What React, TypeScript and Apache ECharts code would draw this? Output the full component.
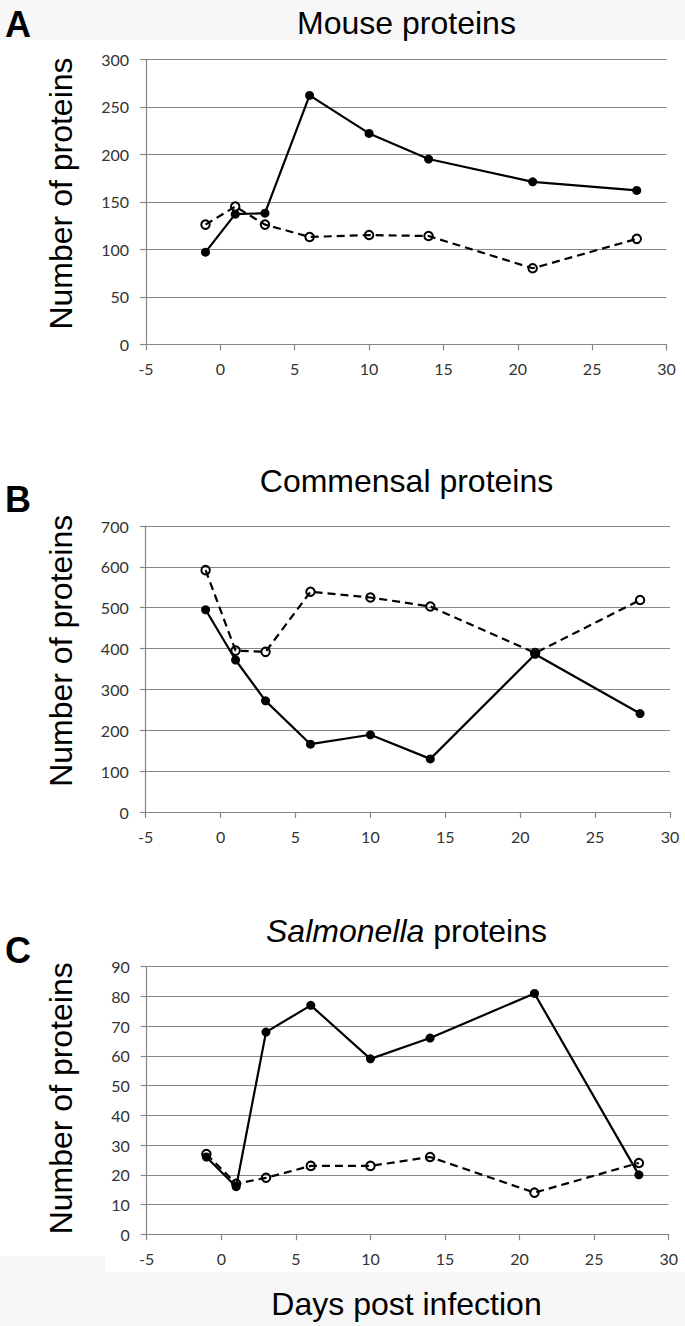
import React, { useEffect, useRef } from "react";
import * as echarts from "echarts";

// ---- data ----
const days = [-1, 1, 3, 6, 10, 14, 21, 28];
const mouseSolid = [97, 137, 138, 262, 222, 195, 171, 162];
const mouseDashed = [126, 145, 126, 113, 115, 114, 80, 111];
const commensalSolid = [495, 372, 272, 166, 189, 130, 386, 241];
const commensalDashed = [592, 395, 392, 539, 525, 503, 389, 519];
const salmonellaSolid = [26, 16, 68, 77, 59, 66, 81, 20];
const salmonellaDashed = [27, 17, 19, 23, 23, 26, 14, 24];

const xMin = -5;
const xMax = 30;
const xInterval = 5;
const yMaxes = [300, 700, 90];
const yIntervals = [50, 100, 10];

const panelLetters = ["A", "B", "C"];
const yTitle = "Number of proteins";
const xTitle = "Days post infection";

// ---- layout ----
const grids = [
  { left: 146, top: 59.3, width: 520.5, height: 285 },
  { left: 145.7, top: 526, width: 524.3, height: 286 },
  { left: 146.7, top: 966.7, width: 522, height: 267.6 },
];

const AXIS_COLOR = "#868686";
const LABEL_COLOR = "#333333";
const TITLE_FONT = "'Liberation Sans', Arial, sans-serif";
const TICK_FONT = "Lato, 'Open Sans', sans-serif";

function pairs(ys: number[]) {
  return days.map((d, i) => [d, ys[i]]);
}

export default function App() {
  const ref = useRef<HTMLDivElement>(null);

  useEffect(() => {
    if (!ref.current) return;
    const chart = echarts.init(ref.current, undefined, { renderer: "svg" });

    const solidSets = [mouseSolid, commensalSolid, salmonellaSolid];
    const dashedSets = [mouseDashed, commensalDashed, salmonellaDashed];

    const xAxes = grids.map((_, i) => ({
      type: "value",
      gridIndex: i,
      min: xMin,
      max: xMax,
      interval: xInterval,
      axisLine: { show: true, onZero: false, lineStyle: { color: AXIS_COLOR, width: 1.2 } },
      axisTick: { show: true, length: 6, inside: false, lineStyle: { color: AXIS_COLOR, width: 1.2 } },
      splitLine: { show: false },
      axisLabel: {
        color: LABEL_COLOR,
        fontFamily: TICK_FONT,
        fontSize: 16,
        margin: 16,
      },
    }));

    const yAxes = grids.map((_, i) => ({
      type: "value",
      gridIndex: i,
      min: 0,
      max: yMaxes[i],
      interval: yIntervals[i],
      axisLine: { show: true, onZero: false, lineStyle: { color: AXIS_COLOR, width: 1.2 } },
      axisTick: { show: true, length: 6, inside: false, lineStyle: { color: AXIS_COLOR, width: 1.2 } },
      splitLine: { show: true, lineStyle: { color: AXIS_COLOR, width: 1.2 } },
      axisLabel: {
        color: LABEL_COLOR,
        fontFamily: TICK_FONT,
        fontSize: 16,
        margin: 17,
      },
    }));

    const series: any[] = [];
    grids.forEach((_, i) => {
      series.push({
        type: "line",
        xAxisIndex: i,
        yAxisIndex: i,
        data: pairs(dashedSets[i]),
        symbol: "circle",
        symbolSize: 8.5,
        lineStyle: { color: "#000", width: 2.2, type: [8, 5] },
        itemStyle: { color: "rgba(0,0,0,0)", borderColor: "#000", borderWidth: 2 },
        emphasis: { disabled: true },
        silent: true,
        z: 3,
      });
      series.push({
        type: "line",
        xAxisIndex: i,
        yAxisIndex: i,
        data: pairs(solidSets[i]),
        symbol: "circle",
        symbolSize: 9,
        lineStyle: { color: "#000", width: 2.2 },
        itemStyle: { color: "#000" },
        emphasis: { disabled: true },
        silent: true,
        z: 4,
      });
    });

    const titleCenterX = 406.5;
    const titleYs = [23, 480.5, 930.5];
    const letterYs = [24.5, 499, 950.5];
    const yTitleYs = [193.5, 650.8, 1098.3];

    const graphics: any[] = [
      { type: "rect", shape: { x: 0, y: 0, width: 685, height: 40 }, style: { fill: "#f7f7f7" }, z: -10, silent: true },
      { type: "rect", shape: { x: 0, y: 1256, width: 105, height: 70 }, style: { fill: "#f7f7f7" }, z: -10, silent: true },
      { type: "rect", shape: { x: 0, y: 1272, width: 685, height: 54 }, style: { fill: "#f7f7f7" }, z: -10, silent: true },
    ];

    const titles = ["Mouse proteins", "Commensal proteins", "{i|Salmonella} proteins"];
    titles.forEach((t, i) => {
      graphics.push({
        type: "text",
        x: titleCenterX,
        y: titleYs[i],
        silent: true,
        style: {
          text: t,
          fill: "#000",
          fontSize: 32,
          fontFamily: TITLE_FONT,
          align: "center",
          verticalAlign: "middle",
          rich: {
            i: { fontStyle: "italic", fontSize: 32, fontFamily: TITLE_FONT, fill: "#000" },
          },
        },
      });
      graphics.push({
        type: "text",
        x: 5,
        y: letterYs[i],
        silent: true,
        style: {
          text: panelLetters[i],
          fill: "#000",
          fontSize: 36,
          fontWeight: "bold",
          fontFamily: TITLE_FONT,
          align: "left",
          verticalAlign: "middle",
        },
      });
      graphics.push({
        type: "text",
        x: 60.5,
        y: yTitleYs[i],
        rotation: Math.PI / 2,
        silent: true,
        style: {
          text: yTitle,
          fill: "#000",
          fontSize: 32,
          fontFamily: TITLE_FONT,
          align: "center",
          verticalAlign: "middle",
        },
      });
    });

    graphics.push({
      type: "text",
      x: titleCenterX,
      y: 1304,
      silent: true,
      style: {
        text: xTitle,
        fill: "#000",
        fontSize: 32,
        fontFamily: TITLE_FONT,
        align: "center",
        verticalAlign: "middle",
      },
    });

    chart.setOption({
      animation: false,
      backgroundColor: "#fff",
      grid: grids.map((g) => ({ ...g, containLabel: false })),
      xAxis: xAxes,
      yAxis: yAxes,
      series,
      graphic: graphics,
    });

    return () => chart.dispose();
  }, []);

  return (
    <div
      ref={ref}
      style={{ position: "fixed", left: 0, top: 0, width: 685, height: 1326 }}
    />
  );
}
